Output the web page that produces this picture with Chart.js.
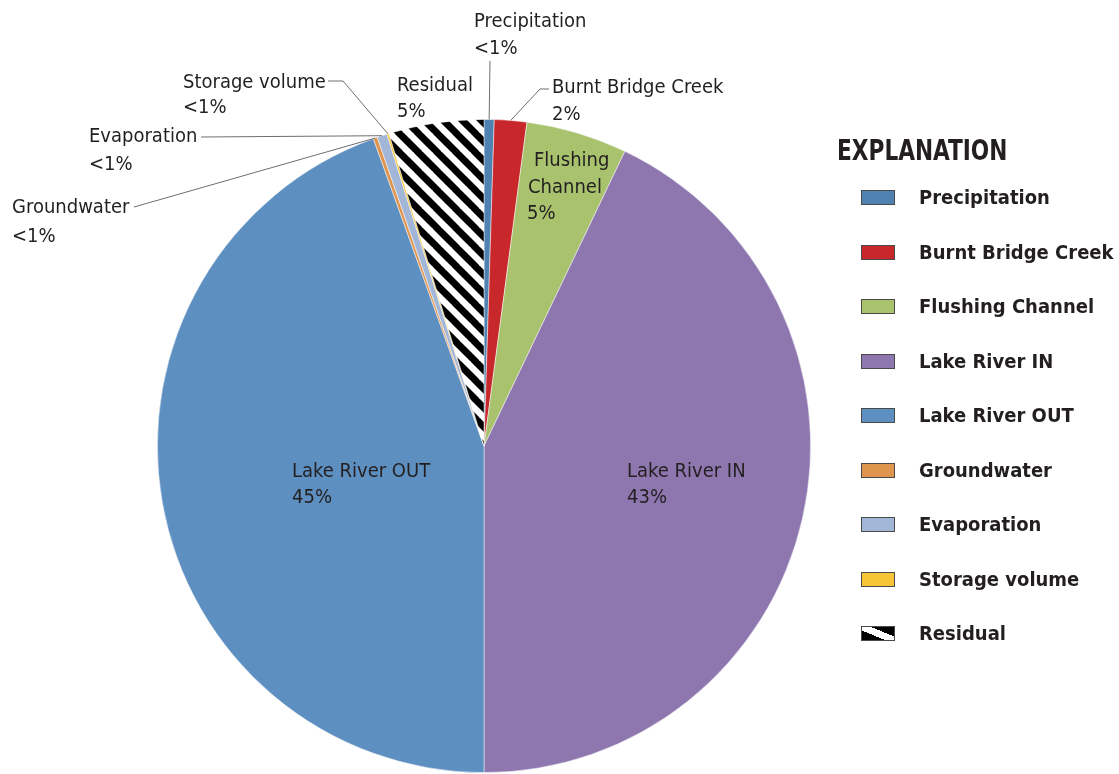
<!DOCTYPE html>
<html>
<head>
<meta charset="utf-8">
<script src="https://cdn.jsdelivr.net/npm/chart.js@4.4.0/dist/chart.umd.min.js"></script>
<style>
  body { margin: 0; background: #fff; }
  #wrap { position: relative; width: 1119px; height: 774px; }
  #legend { position: absolute; left: 0; top: 0; }
  .ttl { position: absolute; left: 837px; top: 134px; font: bold 28px "DejaVu Sans Condensed", "Liberation Sans Narrow", sans-serif; color: #231f20; white-space: nowrap; transform: scaleX(0.86); transform-origin: left top; }
  .sw { position: absolute; left: 861px; width: 32px; height: 13px; border: 1px solid #4a4a4a; }
  .lt { position: absolute; left: 919px; font: bold 20px "DejaVu Sans Condensed", "Liberation Sans Narrow", sans-serif; color: #231f20; white-space: nowrap; line-height: 22px; }
</style>
</head>
<body>
<div id="wrap">
  <canvas id="pieChart" width="1119" height="774"></canvas>
  <div id="legend"></div>
</div>
<script>
const labels = ["Precipitation", "Burnt Bridge Creek", "Flushing Channel", "Lake River IN", "Lake River OUT", "Groundwater", "Evaporation", "Storage volume", "Residual"];
const values = [0.5, 1.6, 5.0, 42.9, 44.5, 0.2, 0.5, 0.1, 4.7];
const colors = ["#4f81b1", "#c8282c", "#a8c26e", "#8d77ae", "#5e8fc1", "#e0954f", "#a2b7d8", "#f5c437", "hatch"];
const labelLines = [["Precipitation"], ["Burnt Bridge Creek"], ["Flushing", "Channel"], ["Lake River IN"], ["Lake River OUT"], ["Groundwater"], ["Evaporation"], ["Storage volume"], ["Residual"]];

// where the slice labels sit (first baseline) and the elbows of their leader lines
const labelPos = [
  { x: [474], y: 27, lh: 27, leader: [[490, 61]] },
  { x: [552], y: 93, lh: 27, leader: [[549, 89], [540, 89]] },
  { x: [534, 528, 527], y: 166, lh: 26.5 },
  { x: [627], y: 477, lh: 26 },
  { x: [292], y: 477, lh: 26 },
  { x: [12], y: 213, lh: 29, leader: [[134, 207]] },
  { x: [89], y: 142, lh: 28, leader: [[201, 137]] },
  { x: [183], y: 88, lh: 25, leader: [[328, 81], [343, 81]] },
  { x: [397], y: 91, lh: 26 },
];

function pctText(v) {
  return v < 1 ? "<1%" : Math.round(v) + "%";
}

function makeHatch() {
  const c = document.createElement("canvas");
  const s = 19;
  c.width = s;
  c.height = s;
  const g = c.getContext("2d");
  g.fillStyle = "#fff";
  g.fillRect(0, 0, s, s);
  g.strokeStyle = "#000";
  g.lineWidth = 7;
  for (let k = -1; k <= 1; k++) {
    g.beginPath();
    g.moveTo(k * s - 2, -2);
    g.lineTo(k * s + s + 2, s + 2);
    g.stroke();
  }
  return g.createPattern(c, "repeat");
}

const hatch = makeHatch();
const fills = colors.map((c) => (c === "hatch" ? hatch : c));

const sliceLabels = {
  id: "sliceLabels",
  afterDatasetsDraw(chart) {
    const ctx = chart.ctx;
    const meta = chart.getDatasetMeta(0);
    ctx.save();
    ctx.font = '20px "DejaVu Sans Condensed", "Liberation Sans Narrow", sans-serif';
    ctx.fillStyle = "#231f20";
    ctx.textAlign = "left";
    ctx.textBaseline = "alphabetic";
    meta.data.forEach((arc, i) => {
      const p = arc.getProps(["x", "y", "startAngle", "endAngle", "outerRadius"], true);
      const pos = labelPos[i];
      const lines = labelLines[i].concat([pctText(values[i])]);
      lines.forEach((t, j) => {
        const x = pos.x[j] !== undefined ? pos.x[j] : pos.x[0];
        ctx.fillText(t, x, pos.y + j * pos.lh);
      });
      if (pos.leader) {
        const mid = (p.startAngle + p.endAngle) / 2;
        const ex = p.x + Math.cos(mid) * p.outerRadius;
        const ey = p.y + Math.sin(mid) * p.outerRadius;
        ctx.strokeStyle = "#6d6e71";
        ctx.lineWidth = 1;
        ctx.beginPath();
        ctx.moveTo(pos.leader[0][0], pos.leader[0][1]);
        for (let k = 1; k < pos.leader.length; k++) {
          ctx.lineTo(pos.leader[k][0], pos.leader[k][1]);
        }
        ctx.lineTo(ex, ey);
        ctx.stroke();
      }
    });
    ctx.restore();
  },
};

const ctx = document.getElementById("pieChart").getContext("2d");
const pieChart = new Chart(ctx, {
  type: "pie",
  data: {
    labels: labels,
    datasets: [
      {
        data: values,
        backgroundColor: fills,
        borderColor: "rgba(255, 255, 255, 0.6)",
        borderWidth: 0.8,
      },
    ],
  },
  options: {
    responsive: false,
    animation: false,
    layout: {
      padding: { left: 157, right: 308, top: 119, bottom: 1 },
    },
    plugins: {
      legend: { display: false },
      tooltip: { enabled: false },
    },
  },
  plugins: [sliceLabels],
});

// legend ("EXPLANATION")
const legendEl = document.getElementById("legend");
let html = '<div class="ttl">EXPLANATION</div>';
labels.forEach((name, i) => {
  const top = 190 + i * 54.5;
  const bg = colors[i] === "hatch"
    ? "linear-gradient(to top right, #000 0 36%, #fff 36% 64%, #000 64%)"
    : colors[i];
  html += '<div class="sw" style="top:' + top + 'px;background:' + bg + '"></div>';
  html += '<div class="lt" style="top:' + (top - 4) + 'px">' + name + "</div>";
});
legendEl.innerHTML = html;
</script>
</body>
</html>
